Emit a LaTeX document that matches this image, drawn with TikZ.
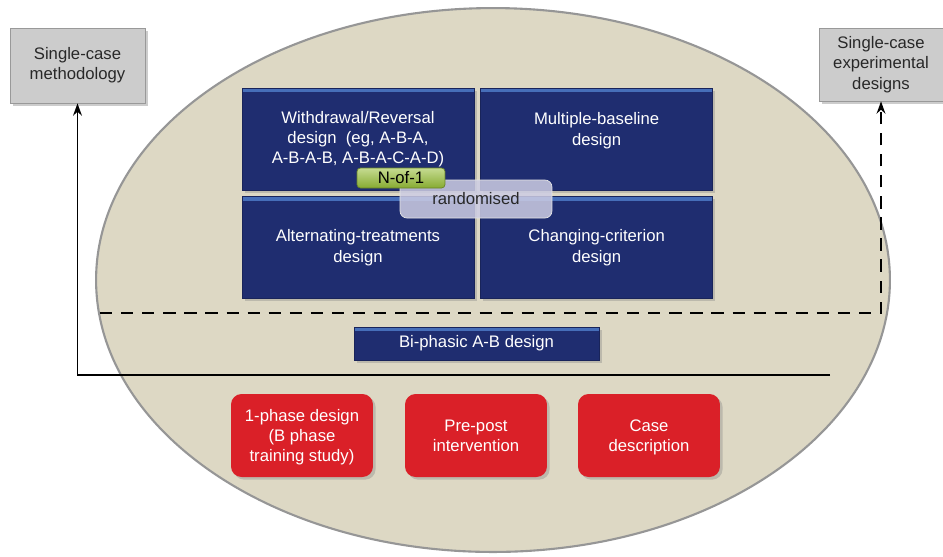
\documentclass[tikz,border=0pt]{standalone}
\usepackage{fontspec}
\setmainfont{Liberation Sans}
\usetikzlibrary{positioning,arrows.meta,shadows}

\definecolor{ovalfill}{RGB}{221,216,196}
\definecolor{ovalline}{RGB}{150,150,150}
\definecolor{navy}{RGB}{31,45,112}
\definecolor{navytop}{RGB}{70,110,185}
\definecolor{redbox}{RGB}{218,32,40}
\definecolor{greenbox}{RGB}{150,190,55}
\definecolor{greybox}{RGB}{204,204,204}
\definecolor{lavender}{RGB}{205,205,228}
\definecolor{darktext}{RGB}{40,40,40}

\begin{document}
\begin{tikzpicture}[
    x=0.02cm, y=-0.02cm,
    every node/.style={align=center, inner sep=0pt, font=\fontsize{9.5}{11.5}\selectfont},
    >={Stealth[length=7pt,width=5pt]},
    designbox/.style={fill=navy, text=white, minimum width=4.64cm, minimum height=2.04cm,
        draw=navy!80!black, line width=0.4pt,
        path picture={\fill[navytop] (path picture bounding box.north west)
            rectangle ([yshift=-2.5pt]path picture bounding box.north east);},
        drop shadow={shadow xshift=1.5pt, shadow yshift=-1.5pt, opacity=0.35}},
    redbox/.style={fill=redbox, text=white, rounded corners=6pt,
        minimum width=2.84cm, minimum height=1.66cm, text depth=-4pt,
        drop shadow={shadow xshift=1.5pt, shadow yshift=-1.5pt, opacity=0.35}},
    greybox/.style={fill=greybox, text=darktext, draw=gray!80,
        drop shadow={shadow xshift=1.5pt, shadow yshift=-1.5pt, opacity=0.4}},
]
\useasboundingbox (0,0) rectangle (943,556);

% the oval
\fill[ovalfill, draw=ovalline, line width=1.2pt] (493,280) ellipse [x radius=7.94cm, y radius=5.44cm];

% top labels
\node[greybox, minimum width=2.7cm, minimum height=1.5cm] (meth) at (77.5,65.5) {Single-case\\methodology};
\node[greybox, minimum width=2.48cm, minimum height=1.46cm] (exp) at (881,64.5) {Single-case\\experimental\\designs};

% experimental designs
\node[designbox] (wd) at (358,139) {Withdrawal/Reversal\\design~~(eg, A-B-A,\\A-B-A-B, A-B-A-C-A-D)};
\node[designbox, right=0.12cm of wd] (mb) {Multiple-baseline\\design\\\mbox{}};
\node[designbox, below=0.12cm of wd] (at) {Alternating-treatments\\design};
\node[designbox, below=0.12cm of mb] (cc) {Changing-criterion\\design};

\node[fill=lavender, fill opacity=0.85, text opacity=1, text=darktext, draw=white!80!gray, rounded corners=4pt,
    minimum width=3.04cm, minimum height=0.76cm] (rand) at (476,199) {randomised};
\node[top color=greenbox!55!white, bottom color=greenbox!90!black, draw=greenbox!70!black, text=black,
    rounded corners=2pt, minimum width=1.76cm, minimum height=0.4cm] (n1) at (401,178) {N-of-1};

\node[designbox, minimum width=4.9cm, minimum height=0.66cm] (ab) at (476.5,343.5) {Bi-phasic A-B design};

% non-experimental
\node[redbox] (one) at (302,435.5) {1-phase design\\(B phase\\training study)};
\node[redbox] (pp) at (476,435.5) {Pre-post\\intervention};
\node[redbox] (cd) at (649,435.5) {Case\\description};

% boundary lines
\coordinate (solidend) at (830,375);
\coordinate (dashend) at (100,313);
\draw[->, line width=1.1pt] (solidend) -| (meth.south);
\draw[->, line width=1.1pt, dash pattern=on 7pt off 5pt] (dashend) -| (exp.south);
\end{tikzpicture}
\end{document}
